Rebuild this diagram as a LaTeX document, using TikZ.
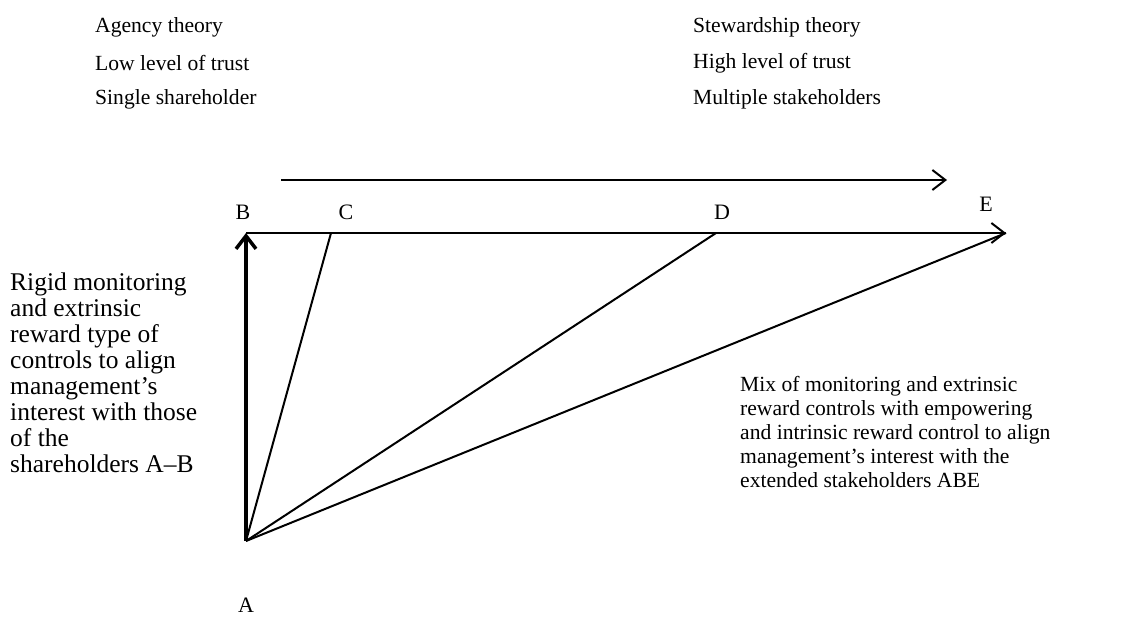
\documentclass[tikz,border=0pt]{standalone}
\usepackage{fontspec}
\setmainfont{Liberation Serif}
\usetikzlibrary{arrows.meta}
\begin{document}
\begin{tikzpicture}[x=1pt,y=-1pt,
  txt/.style={inner sep=0pt,anchor=west,font=\fontsize{21.6}{26}\selectfont},
  parl/.style={inner sep=0pt,anchor=north west,align=left,font=\fontsize{25.5}{25.9}\selectfont},
  parr/.style={inner sep=0pt,anchor=north west,align=left,font=\fontsize{21.6}{24}\selectfont},
  lbl/.style={inner sep=0pt,font=\fontsize{22}{26}\selectfont},
  ln/.style={line width=2pt},
  barb/.style={-{Straight Barb[length=13pt,width=20pt,line width=2pt]}}]
\useasboundingbox (0,0) rectangle (1139,616);
% top texts
\node[txt] (t1) at (95,27) {Agency theory};
\node[txt] (t2) at (95,63) {Low level of trust};
\node[txt] (t3) at (95,99) {Single shareholder};
\node[txt] (t4) at (693,27) {Stewardship theory};
\node[txt] (t5) at (693,63) {High level of trust};
\node[txt] (t6) at (693,99) {Multiple stakeholders};
% top arrow
\coordinate (s1) at (281,180);
\coordinate (s2) at (947,180);
\draw[ln,barb] (s1) -- (s2);
% points
\coordinate (A) at (246,541);
\coordinate (B) at (246,233);
\coordinate (C) at (331,233);
\coordinate (D) at (716,233);
\coordinate (E) at (1006,233);
\node[lbl] (lA) at (246,605) {A};
\node[lbl] (lB) at (243,212) {B};
\node[lbl] (lC) at (346,212) {C};
\node[lbl] (lD) at (722,212) {D};
\node[lbl] (lE) at (986,204) {E};
% lines
\draw[ln,barb] (B) -- (E);
\draw[line width=3.5pt,-{Straight Barb[length=13pt,width=20pt,line width=3.5pt]}] (A) -- (B);
\draw[ln] (A) -- (C);
\draw[ln] (A) -- (D);
\draw[ln] (A) -- (E);
% paragraphs
\node[parl] (pl) at (10,273) {Rigid monitoring\\and extrinsic\\reward type of\\controls to align\\management's\\interest with those\\of the\\shareholders A--B};
\node[parr] (pr) at (740,376) {Mix of monitoring and extrinsic\\reward controls with empowering\\and intrinsic reward control to align\\management's interest with the\\extended stakeholders ABE};
\end{tikzpicture}
\end{document}
